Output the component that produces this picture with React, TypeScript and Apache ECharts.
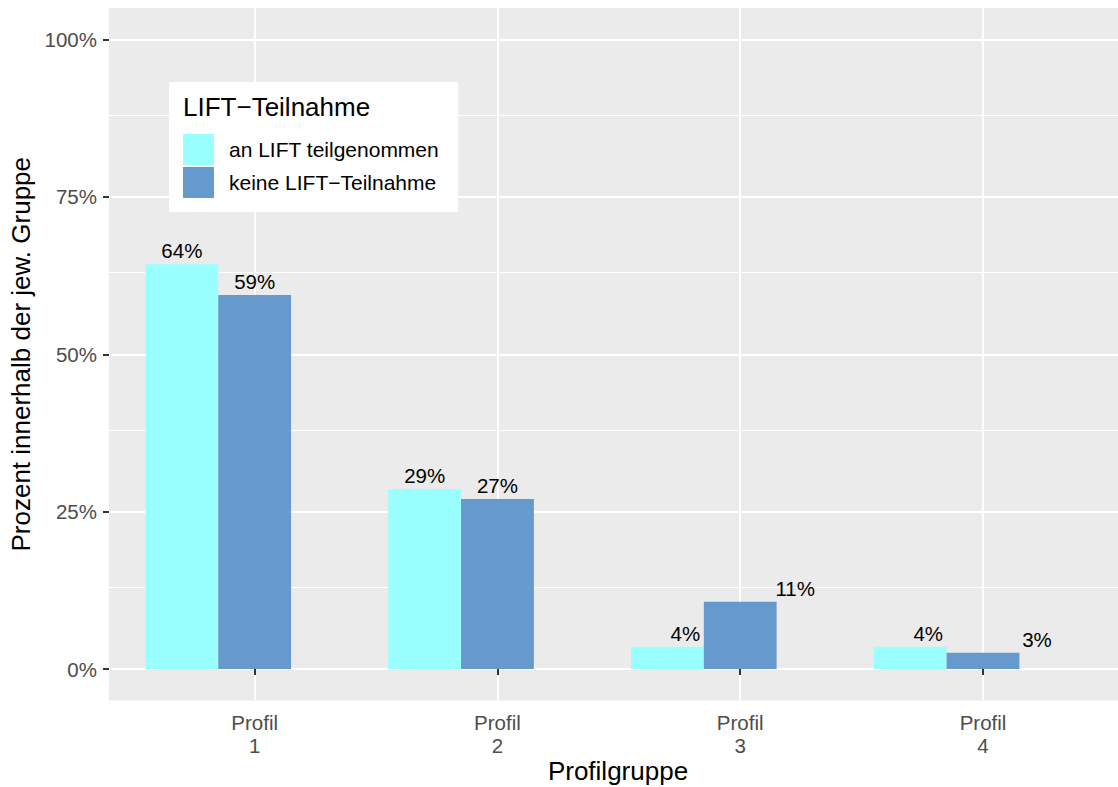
import React, { useEffect, useRef } from "react";
import * as echarts from "echarts";

// ---- data ----
const categories = ["Profil\n1", "Profil\n2", "Profil\n3", "Profil\n4"];
const categoryPositions = [1, 2, 3, 4];
const seriesNames = ["an LIFT teilgenommen", "keine LIFT\u2212Teilnahme"];
const teilgenommen = [0.643, 0.286, 0.0355, 0.0355];
const keineTeilnahme = [0.594, 0.27, 0.107, 0.026];
const yTickValues = [0, 0.25, 0.5, 0.75, 1];
const yMinorValues = [0.125, 0.375, 0.625, 0.875];
const legendTitle = "LIFT\u2212Teilnahme";
const xTitle = "Profilgruppe";
const yTitle = "Prozent innerhalb der jew. Gruppe";

// label horizontal shifts (style)
const labelShiftA = [0, 0, 18, 18];
const labelShiftB = [0, 0, 55, 54];

const FONT = "Liberation Sans";
const CYAN = "#99FFFF";
const BLUE = "#6699CC";
const BAR_W = 72.8;

const pct = (v: number) => Math.round(v * 100) + "%";

export default function App() {
  const ref = useRef<HTMLDivElement>(null);
  useEffect(() => {
    if (!ref.current) return;
    const chart = echarts.init(ref.current, undefined, { renderer: "svg" });
    const barLabel = {
      show: true,
      position: "top",
      distance: 3,
      color: "#000",
      fontSize: 20.5,
      fontFamily: FONT,
      formatter: (p: any) => pct(p.value[1]),
    };
    chart.setOption({
      animation: false,
      backgroundColor: "#ffffff",
      textStyle: { fontFamily: FONT },
      grid: {
        left: 109,
        right: 0,
        top: 8,
        bottom: 86.5,
        show: true,
        backgroundColor: "#EBEBEB",
        borderWidth: 0,
        containLabel: false,
        outerBoundsMode: "none",
      },
      legend: {
        show: true,
        data: seriesNames,
        orient: "vertical",
        left: 169,
        top: 82,
        itemWidth: 31,
        itemHeight: 31,
        itemGap: 2,
        icon: "rect",
        selectedMode: false,
        padding: [52, 19, 14, 14],
        backgroundColor: "#ffffff",
        textStyle: { fontSize: 21, color: "#000", fontFamily: FONT, padding: [0, 0, 0, 10] },
      },
      graphic: [
        {
          type: "text",
          left: 183,
          top: 94,
          z: 100,
          style: { text: legendTitle, fontSize: 26, fill: "#000", fontFamily: FONT },
        },
      ],
      xAxis: {
        type: "value",
        min: 0.4,
        max: 4.556,
        axisLine: { show: false },
        axisTick: {
          show: true,
          customValues: categoryPositions,
          length: 6,
          lineStyle: { color: "#333333", width: 2 },
        },
        axisLabel: {
          customValues: categoryPositions,
          formatter: (v: number) => categories[Math.round(v) - 1] ?? "",
          color: "#4D4D4D",
          fontSize: 20.5,
          lineHeight: 23,
          margin: 10,
          fontFamily: FONT,
        },
        splitLine: { show: true, lineStyle: { color: "#ffffff", width: 2 } },
        name: xTitle,
        nameLocation: "middle",
        nameMoveOverlap: false,
        nameGap: 57,
        nameTextStyle: {
          fontSize: 26,
          lineHeight: 26,
          color: "#000",
          fontFamily: FONT,
          padding: [0, 0, 0, 9],
        },
      },
      yAxis: {
        type: "value",
        min: -0.05,
        max: 1.05,
        axisLine: { show: false },
        axisTick: {
          show: true,
          customValues: yTickValues,
          length: 6,
          lineStyle: { color: "#333333", width: 2 },
        },
        axisLabel: {
          customValues: yTickValues,
          formatter: (v: number) => pct(v),
          color: "#4D4D4D",
          fontSize: 20.5,
          margin: 12,
          fontFamily: FONT,
        },
        splitLine: { show: true, lineStyle: { color: "#ffffff", width: 2 } },
        name: yTitle,
        nameLocation: "middle",
        nameMoveOverlap: false,
        nameGap: 75,
        nameTextStyle: { fontSize: 26, color: "#000", fontFamily: FONT },
      },
      series: [
        {
          type: "bar",
          name: seriesNames[0],
          barWidth: BAR_W,
          barGap: "0%",
          itemStyle: { color: CYAN },
          label: barLabel,
          data: categoryPositions.map((p, i) => ({
            value: [p, teilgenommen[i]],
            label: { offset: [labelShiftA[i], 0] },
          })),
        },
        {
          type: "bar",
          name: seriesNames[1],
          barWidth: BAR_W,
          barGap: "0%",
          itemStyle: { color: BLUE },
          label: barLabel,
          data: categoryPositions.map((p, i) => ({
            value: [p, keineTeilnahme[i]],
            label: { offset: [labelShiftB[i], 0] },
          })),
        },
        {
          type: "bar",
          name: "_placeholder",
          barWidth: BAR_W,
          barGap: "0%",
          silent: true,
          itemStyle: { color: "rgba(0,0,0,0)" },
          data: categoryPositions.map((p) => [p, 0]),
          markLine: {
            silent: true,
            symbol: "none",
            z: 1,
            label: { show: false },
            lineStyle: { color: "#ffffff", width: 1, type: "solid" },
            data: yMinorValues.map((v) => ({ yAxis: v })),
          },
        },
      ],
    });
    return () => chart.dispose();
  }, []);
  return (
    <div
      ref={ref}
      style={{ position: "absolute", left: 0, top: 0, width: 1118, height: 787 }}
    />
  );
}
